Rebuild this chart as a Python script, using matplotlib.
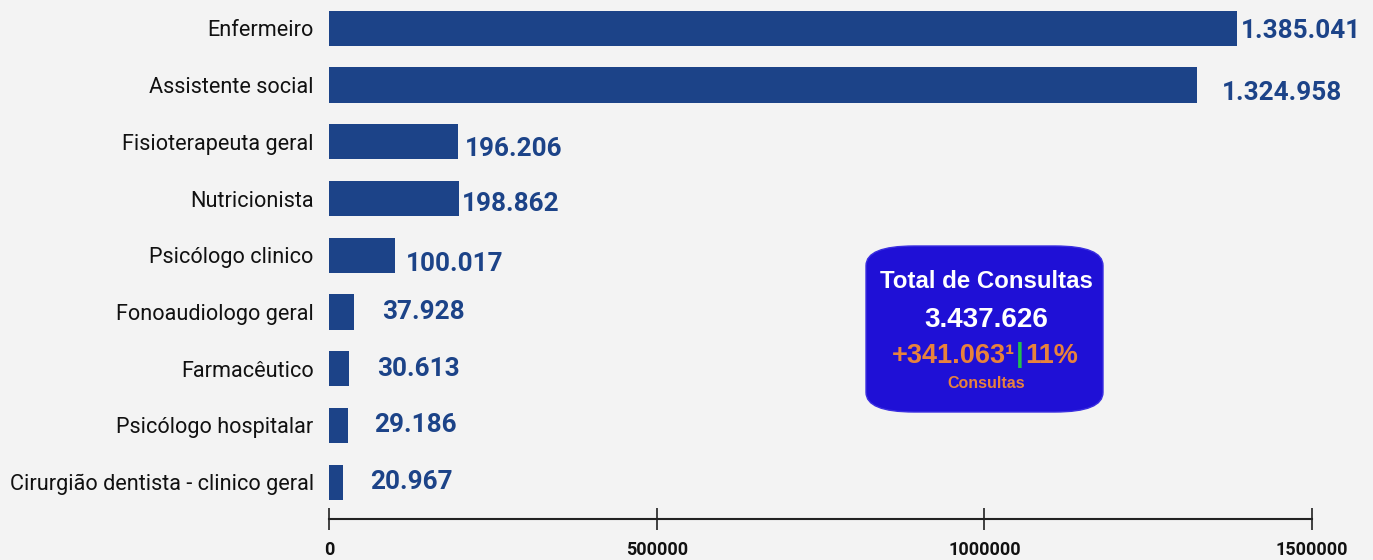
import matplotlib
matplotlib.use("Agg")
import matplotlib.pyplot as plt
from matplotlib.patches import FancyBboxPatch

categories = [
    "Enfermeiro",
    "Assistente social",
    "Fisioterapeuta geral",
    "Nutricionista",
    "Psicólogo clinico",
    "Fonoaudiologo geral",
    "Farmacêutico",
    "Psicólogo hospitalar",
    "Cirurgião dentista - clinico geral",
]
values = [1385041, 1324958, 196206, 198862, 100017, 37928, 30613, 29186, 20967]
value_labels = ["1.385.041", "1.324.958", "196.206", "198.862", "100.017",
                "37.928", "30.613", "29.186", "20.967"]
x_ticks = [0, 500000, 1000000, 1500000]

card_title = "Total de Consultas"
card_total = "3.437.626"
card_delta = "+341.063¹"
card_pct = "11%"
card_unit = "Consultas"

BAR = "#1c4388"
BG = "#f3f3f3"

# label nudges (points): horizontal gap after bar end, vertical drop
label_dx = [3, 18, 5, 2, 8, 20, 20, 19, 20]
label_dy = [-2, -6, -5, -4, -6, 0, 0, 0, 0]

fig = plt.figure(figsize=(13.73, 5.6), dpi=100, facecolor=BG)
ax = fig.add_axes([329 / 1373, 41 / 560, (1312 - 329) / 1373, 519 / 560])
ax.set_facecolor(BG)

ypos = list(range(len(categories)))
ax.barh(ypos, values, height=0.62, color=BAR, zorder=2)

for y, v, lab, dx, dy in zip(ypos, values, value_labels, label_dx, label_dy):
    ax.annotate(lab, xy=(v, y), xytext=(dx, dy), textcoords="offset points",
                ha="left", va="center", fontsize=18.8, fontweight="bold",
                color=BAR, family="Roboto")

ax.set_xlim(0, 1500000)
ax.set_ylim(8.65, -0.5)
ax.set_yticks(ypos)
ax.set_yticklabels(categories, fontsize=15.6, family="Roboto", color="#111111")
ax.tick_params(axis="y", length=0, pad=11)

ax.set_xticks(x_ticks)
ax.set_xticklabels([str(t) for t in x_ticks], fontsize=13, fontweight="bold",
                   family="Roboto", color="#111111")
ax.tick_params(axis="x", direction="inout", length=16, width=1.2, pad=8,
               color="#222222")

for side in ("left", "right", "top"):
    ax.spines[side].set_visible(False)
ax.spines["bottom"].set_linewidth(1.5)
ax.spines["bottom"].set_color("#222222")

# summary card
card = FancyBboxPatch((866 / 1373, (560 - 412) / 560), (1103 - 866) / 1373,
                      (412 - 246) / 560,
                      boxstyle="round,pad=0,rounding_size=0.035",
                      transform=fig.transFigure, facecolor="#1f10d6",
                      edgecolor="#3a2ee0", linewidth=1, zorder=5,
                      mutation_aspect=560 / 1373 * 2.45)
fig.patches.append(card)

cx = 986 / 1373
fig.text(cx, 1 - 282 / 560, card_title, ha="center", va="center", fontsize=17.3,
         fontweight="bold", color="white", family="Liberation Sans", zorder=6)
fig.text(cx, 1 - 320 / 560, card_total, ha="center", va="center", fontsize=20,
         fontweight="bold", color="white", family="Liberation Sans", zorder=6)
fig.text(1015 / 1373, 1 - 356 / 560, card_delta, ha="right", va="center",
         fontsize=19.5, fontweight="bold", color="#e8823c",
         family="Liberation Sans", zorder=6)
fig.text(1020 / 1373, 1 - 355 / 560, "|", ha="center", va="center",
         fontsize=20, fontweight="bold", color="#22c04a",
         family="Liberation Sans", zorder=6)
fig.text(1025 / 1373, 1 - 356 / 560, card_pct, ha="left", va="center",
         fontsize=19.5, fontweight="bold", color="#e8823c",
         family="Liberation Sans", zorder=6)
fig.text(cx, 1 - 383 / 560, card_unit, ha="center", va="center", fontsize=11.5,
         fontweight="bold", color="#e8823c", family="Liberation Sans", zorder=6)

fig.savefig("out.png", dpi=100, facecolor=BG)
